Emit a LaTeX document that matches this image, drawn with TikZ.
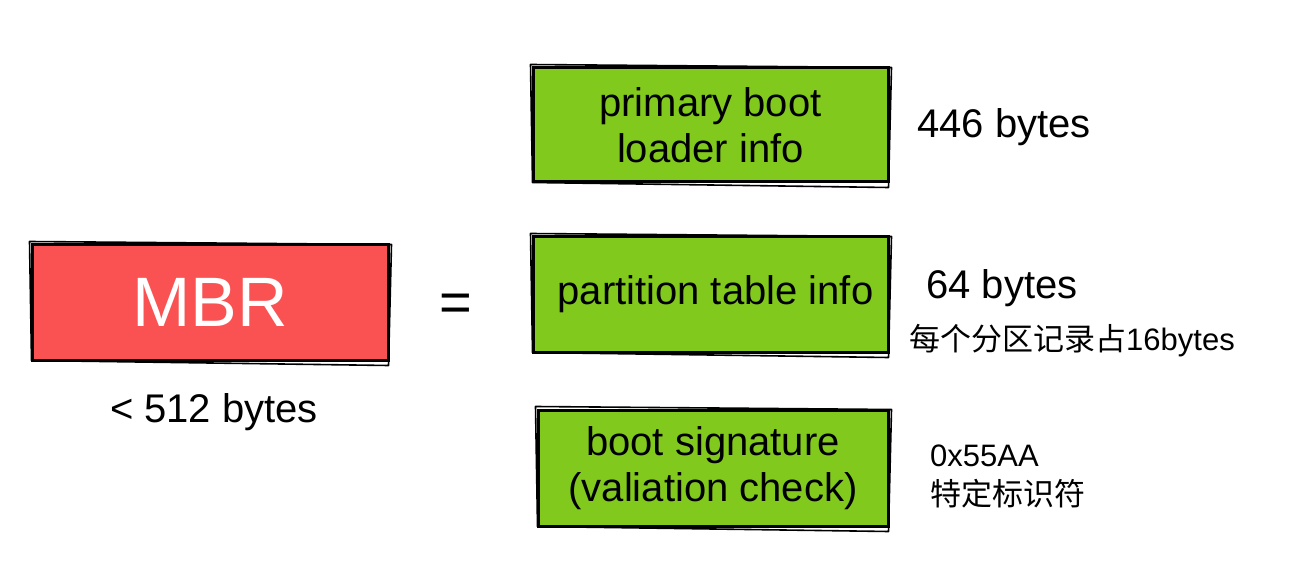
\documentclass[tikz,border=0pt]{standalone}
\usepackage{fontspec}
\setmainfont{Liberation Sans}
\newfontfamily\cjk{Noto Sans CJK SC}
\definecolor{mbrred}{HTML}{FA5252}
\definecolor{partgreen}{HTML}{82C91E}

\begin{document}
\begin{tikzpicture}[
		% pixel-like units, y pointing down
		x=1pt, y=-1pt,
		box/.style={draw=black, line width=3pt, inner sep=0pt, align=center,
			font=\fontsize{40}{46}\selectfont},
		rough/.style={draw=black, line width=1.6pt, line cap=round, line join=round},
		note/.style={anchor=west, inner sep=0pt, font=\fontsize{40}{46}\selectfont},
		small/.style={anchor=west, inner sep=0pt, font=\fontsize{31}{36}\selectfont}
		]
		
		\useasboundingbox (0,0) rectangle (1293,577);
		
		% ==========================================
		% 1. The whole record: MBR
		% ==========================================
		\node[box, fill=mbrred, text=white, minimum width=356pt, minimum height=115pt,
			font=\fontsize{70}{80}\selectfont] (mbr) at (210,302.5) {MBR};
		\node[anchor=center, inner sep=0pt, font=\fontsize{40}{46}\selectfont] (size) at (214,412) {< 512 bytes};
		
		\node[inner sep=0pt, font=\fontsize{56}{60}\selectfont] (eq) at (456,308) {=};
		
		% ==========================================
		% 2. The three parts
		% ==========================================
		\node[box, fill=partgreen, minimum width=355pt, minimum height=114pt] (loader) at (710.5,125)
		{primary boot\\loader info};
		\node[box, fill=partgreen, minimum width=355pt, minimum height=115pt] (ptable) at (710.5,294.5)
		{\hspace*{10pt}partition table info};
		\node[box, fill=partgreen, minimum width=350pt, minimum height=116pt] (sig) at (713,468)
		{boot signature\\(valiation check)};
		
		% Sketchy second stroke round every box
		\foreach \b in {mbr,loader,ptable,sig} {
			\draw[rough] ([shift={(-1,-2)}]\b.north west) -- ([shift={(2,1)}]\b.north east)
			-- ([shift={(-1,4)}]\b.south east) -- ([shift={(1,-1)}]\b.south west) -- cycle;
		}
		
		% ==========================================
		% 3. Sizes of the parts
		% ==========================================
		\node[note] (loadersize) at (917,127) {446 bytes};
		\node[note] (tablesize) at (926,288) {64 bytes};
		\node[small] (entrysize) at (909,341) {{\cjk 每个分区记录占}16bytes};
		\node[small] (magic) at (930,456) {0x55AA};
		\node[small] (magicnote) at (930,494) {\cjk 特定标识符};
		
	\end{tikzpicture}
\end{document}
